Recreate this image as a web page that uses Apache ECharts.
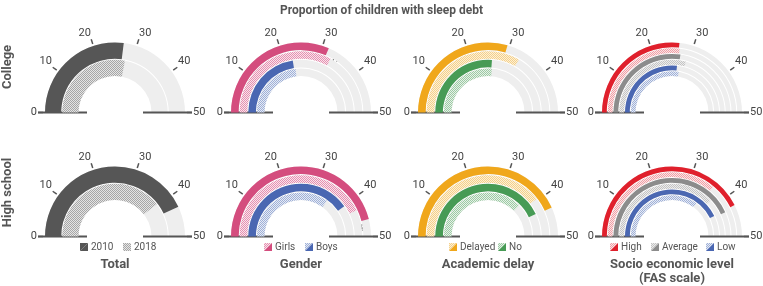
<!DOCTYPE html>
<html>
<head>
<meta charset="utf-8">
<script src="https://cdn.jsdelivr.net/npm/echarts@6/dist/echarts.min.js"></script>
<style>
  html, body { margin: 0; padding: 0; background: #fff; }
  #chart { width: 763px; height: 286px; }
</style>
</head>
<body>
<div id="chart"></div>
<script>
// data
const panels = ['Total', 'Gender', 'Academic delay', 'Socio economic level\n(FAS scale)'];
const rows = ['College', 'High school'];
const axisMax = 50;
const tickStep = 10;

// values: [college, high school]
const total2010 = [27, 43];
const total2018 = [28, 39.5];
const girls2010 = [31.5, 46];
const girls2018 = [33, 43];
const boys2010 = [22.5, 40.3];
const boys2018 = [23, 35];
const delayed2010 = [29.5, 43.2];
const delayed2018 = [33.4, 39.5];
const no2010 = [26.2, 43];
const no2018 = [26.4, 37.5];
const high2010 = [26.7, 42.6];
const high2018 = [26.9, 36];
const avg2010 = [27.3, 43.2];
const avg2018 = [29.2, 38];
const low2010 = [26.7, 42.8];
const low2018 = [27.6, 35];

const legendNames = [['2010', '2018'], ['Girls', 'Boys'], ['Delayed', 'No'], ['High', 'Average', 'Low']];

// layout / style
const centersX = [115, 301, 488, 672];
const centersY = [112.5, 236.5];
const outerR = 70, innerR = 36.5, ringGap = 1;
const trackColor = '#eeeeee';
const textColor = '#555';
const font = 'Roboto';

function hatch(c1, c2) {
  const cv = document.createElement('canvas');
  cv.width = 2; cv.height = 2;
  const ctx = cv.getContext('2d');
  ctx.fillStyle = c2; ctx.fillRect(0, 0, 2, 2);
  ctx.fillStyle = c1; ctx.fillRect(0, 0, 1, 1); ctx.fillRect(1, 1, 1, 1);
  return { image: cv, repeat: 'repeat' };
}

const C = {
  dark: '#565656', darkH: hatch('#a6a6a6', '#e4e4e4'),
  pink: '#d44d7e', pinkH: hatch('#e690b0', '#f8e4ec'),
  blue: '#4a67b2', blueH: hatch('#9fb0d8', '#e6ebf4'),
  orange: '#f0a71b', orangeH: hatch('#f5d08a', '#fcf0d6'),
  green: '#479b55', greenH: hatch('#9dcaa4', '#e6f1e8'),
  red: '#e0202c', redH: hatch('#f0a0a6', '#fbe4e6'),
  grey: '#8c8c8c', greyH: hatch('#c4c4c4', '#ececec')
};

const panelRings = [
  [[total2010, C.dark], [total2018, C.darkH]],
  [[girls2010, C.pink], [girls2018, C.pinkH], [boys2010, C.blue], [boys2018, C.blueH]],
  [[delayed2010, C.orange], [delayed2018, C.orangeH], [no2010, C.green], [no2018, C.greenH]],
  [[high2010, C.red], [high2018, C.redH], [avg2010, C.grey], [avg2018, C.greyH], [low2010, C.blue], [low2018, C.blueH]]
];
const legendColors = [
  [[C.dark, C.dark], [C.darkH, C.darkH]],
  [[C.pink, C.pinkH], [C.blue, C.blueH]],
  [[C.orange, C.orangeH], [C.green, C.greenH]],
  [[C.red, C.redH], [C.grey, C.greyH], [C.blue, C.blueH]]
];
const legendX = [[80, 123], [264, 305], [449, 498], [610, 651, 706]];

const series = [];
const polar = [], angleAxis = [], radiusAxis = [];
const hidden = {
  pointer: { show: false }, anchor: { show: false }, title: { show: false }, detail: { show: false },
  axisTick: { show: false }, axisLabel: { show: false }
};

panelRings.forEach(function (rings, p) {
  const n = rings.length;
  const w = (outerR - innerR - ringGap * (n - 1)) / n;
  centersY.forEach(function (cy, r) {
    const center = [centersX[p], cy];
    rings.forEach(function (ring, k) {
      series.push(Object.assign({
        type: 'gauge', center: center, radius: outerR - k * (w + ringGap),
        startAngle: 180, endAngle: 0, min: 0, max: axisMax, splitNumber: 5,
        axisLine: { lineStyle: { width: w, color: [[1, trackColor]] } },
        progress: { show: true, width: w, roundCap: false, itemStyle: { color: ring[1] } },
        splitLine: { show: false },
        silent: true, animation: false,
        data: [{ value: ring[0][r] }]
      }, hidden));
    });
    // tick marks
    series.push(Object.assign({
      type: 'gauge', center: center, radius: 77, startAngle: 180, endAngle: 0,
      min: 0, max: axisMax, splitNumber: axisMax / tickStep,
      axisLine: { show: false, lineStyle: { width: 0 } },
      splitLine: { show: true, length: 5, distance: 0, lineStyle: { color: textColor, width: 1.5 } },
      silent: true, animation: false, data: []
    }, hidden));
    // baseline
    series.push(Object.assign({
      type: 'gauge', center: center, radius: 77, startAngle: 180, endAngle: 0,
      min: 0, max: axisMax, splitNumber: 1,
      axisLine: { show: false, lineStyle: { width: 0 } },
      splitLine: { show: true, length: 49, distance: 0, lineStyle: { color: textColor, width: 2 } },
      silent: true, animation: false, data: []
    }, hidden));
    // tick labels via polar angle axis
    const idx = polar.length;
    polar.push({ center: center, radius: outerR });
    angleAxis.push({
      polarIndex: idx, type: 'value', min: 0, max: axisMax * 2, interval: tickStep,
      startAngle: 180, clockwise: true,
      axisLine: { show: false }, axisTick: { show: false }, splitLine: { show: false },
      axisLabel: {
        margin: 8, color: '#444', fontFamily: font, fontSize: 11,
        align: 'center', verticalAlign: 'middle',
        rich: { m: { padding: [6, 0, 0, 0], color: '#444', fontFamily: font, fontSize: 11 } },
        formatter: function (v) {
          if (v > axisMax) return '';
          return (v === 0 || v === axisMax) ? String(v) : '{m|' + v + '}';
        }
      }
    });
    radiusAxis.push({ polarIndex: idx, show: false, axisLine: { show: false }, splitLine: { show: false } });
  });
});

const graphic = [];
// panel titles
panels.forEach(function (name, p) {
  graphic.push({
    type: 'text', x: centersX[p], y: 258,
    style: { text: name, fill: textColor, font: 'bold 13px ' + font, textAlign: 'center', textVerticalAlign: 'top', lineHeight: 14 }
  });
  legendNames[p].forEach(function (lname, i) {
    const x = legendX[p][i], y = 243;
    const cols = legendColors[p][i];
    graphic.push({ type: 'polygon', shape: { points: [[x, y], [x + 8, y], [x, y + 8]] }, style: { fill: cols[1] } });
    graphic.push({ type: 'polygon', shape: { points: [[x + 8, y], [x + 8, y + 8], [x, y + 8]] }, style: { fill: cols[0] } });
    graphic.push({
      type: 'text', x: x + 11, y: y + 4.5,
      style: { text: lname, fill: textColor, font: '10px ' + font, textVerticalAlign: 'middle' }
    });
  });
});
// row labels
rows.forEach(function (name, r) {
  graphic.push({
    type: 'text', x: 7.5, y: [67, 192.5][r], rotation: Math.PI / 2,
    style: { text: name, fill: textColor, font: 'bold 13px ' + font, textAlign: 'center', textVerticalAlign: 'middle' }
  });
});
// significance marks
graphic.push({ type: 'line', shape: { x1: 331, y1: 65, x2: 334, y2: 58 }, style: { stroke: '#555', lineWidth: 1 } });
graphic.push({ type: 'text', x: 338, y: 62, style: { text: '*', fill: '#444', font: 'bold 11px ' + font, textAlign: 'center', textVerticalAlign: 'middle' } });
graphic.push({ type: 'line', shape: { x1: 356, y1: 226, x2: 365, y2: 224.5 }, style: { stroke: '#555', lineWidth: 1 } });
graphic.push({ type: 'text', x: 361, y: 231, style: { text: '*', fill: '#444', font: 'bold 11px ' + font, textAlign: 'center', textVerticalAlign: 'middle' } });

const myChart = echarts.init(document.getElementById('chart'));
const option = {
  animation: false,
  title: {
    text: 'Proportion of children with sleep debt', left: 'center', top: 0,
    textStyle: { color: textColor, fontFamily: font, fontSize: 12, fontWeight: 'bold' }
  },
  polar: polar,
  angleAxis: angleAxis,
  radiusAxis: radiusAxis,
  graphic: graphic,
  series: series
};
myChart.setOption(option);
window.addEventListener('resize', function () { myChart.resize(); });
</script>
</body>
</html>
